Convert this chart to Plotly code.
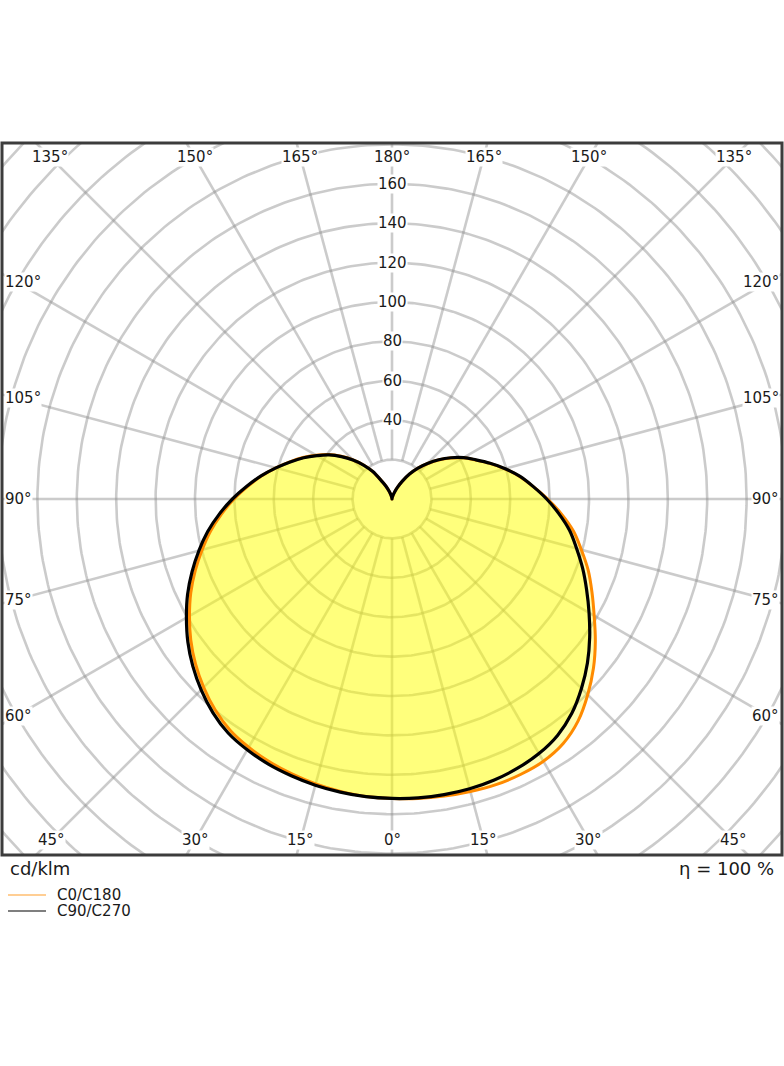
import numpy as np
import plotly.graph_objects as go

# ---------------- data (cd/klm) ----------------
gamma = [0, 5, 10, 15, 20, 25, 30, 35, 40, 45, 50, 55, 60, 65, 70, 75, 80, 85, 90,
         95, 100, 105, 110, 115, 120, 125, 130, 135, 140, 145, 150, 155, 160, 165, 170, 175, 180]

c0 = [152, 152.6, 153.1, 153.7, 154.3, 154.3, 153.7, 151.5, 147, 140.5, 133.5, 126, 118.5, 112, 106, 99.5, 93.5, 86.3, 79,
      72, 65.8, 59.3, 52.8, 46.8, 41.8, 36.3, 30.8, 25.3, 20.3, 15.3, 10.3, 6.4, 3.6, 1.8, 0.8, 0.2, 0]
c180 = [152, 151.6, 150.7, 149.7, 148.5, 147.2, 145.5, 143.3, 139.7, 135.2, 130.2, 124.7, 118.7, 112.7, 106.3, 99.8, 93.5, 86.8, 80.2,
        73.5, 67.3, 61, 55.2, 49.9, 44.5, 39.4, 33.7, 28, 22.5, 17, 10.5, 6.8, 3.9, 2, 0.8, 0.2, 0]
c90 = [152, 152.3, 152.4, 152.3, 151.8, 150.8, 149.2, 146.5, 142, 136, 129.5, 122.5, 115.5, 109, 103, 97, 91.5, 85, 78.5,
       72, 66, 59.5, 53, 47, 42, 36.5, 31, 25.5, 20.5, 15.5, 10.5, 6.5, 3.7, 1.9, 0.8, 0.2, 0]
c270 = [152, 151.7, 151.1, 150.4, 149.5, 148.5, 147, 145, 141.5, 137, 132, 126.5, 120.5, 114.5, 108, 101.5, 95, 88, 81,
        74, 67.5, 61, 55, 49.5, 44, 39, 33.5, 28, 22.5, 17, 10.5, 7, 4, 2, 0.8, 0.2, 0]

grid_radii = [20, 40, 60, 80, 100, 120, 140, 160, 180, 200, 220, 240, 260, 280]
radial_labels = [40, 60, 80, 100, 120, 140, 160]
spoke_angles = list(range(0, 360, 15))

# ---------------- geometry ----------------
W, H = 784, 1066
FL, FR, FT, FB = 2, 782, 143, 855
CX, CY = 392, 499
S = 1.97  # px per cd/klm
x0r, x1r = -(CX - FL) / S, (FR - CX) / S
y0r, y1r = -(FB - CY) / S, (CY - FT) / S


def outline(right, left):
    g = np.radians(gamma)
    r = np.array(right, float)
    l = np.array(left, float)
    xr, yr = r * np.sin(g), -r * np.cos(g)
    xl, yl = -(l * np.sin(g))[::-1], -(l * np.cos(g))[::-1]
    return np.concatenate([xr, xl[1:]]), np.concatenate([yr, yl[1:]])


fig = go.Figure()

GRID = dict(color="rgba(140,140,140,0.45)", width=2.6)
# grid circles
t = np.linspace(0, 2 * np.pi, 361)
gx, gy = [], []
for rr in grid_radii:
    gx += list(rr * np.cos(t)) + [None]
    gy += list(rr * np.sin(t)) + [None]
fig.add_trace(go.Scatter(x=gx, y=gy, mode="lines", hoverinfo="skip", line=GRID, showlegend=False))
# spokes
sx, sy = [], []
for a in spoke_angles:
    ar = np.radians(a)
    sx += [20 * np.sin(ar), 300 * np.sin(ar), None]
    sy += [-20 * np.cos(ar), -300 * np.cos(ar), None]
fig.add_trace(go.Scatter(x=sx, y=sy, mode="lines", hoverinfo="skip", line=GRID, showlegend=False))

ox, oy = outline(c0, c180)
bx, by = outline(c90, c270)
for xx, yy in [(ox, oy), (bx, by)]:
    fig.add_trace(go.Scatter(x=xx, y=yy, mode="lines", fill="toself",
                             fillcolor="rgba(255,255,0,0.30)",
                             line=dict(width=0, shape="spline", smoothing=1.0, color="rgba(0,0,0,0)"),
                             hoverinfo="skip", showlegend=False))
fig.add_trace(go.Scatter(x=ox, y=oy, mode="lines", name="C0/C180",
                         line=dict(color="#ff8a00", width=3, shape="spline", smoothing=1.0), showlegend=False))
fig.add_trace(go.Scatter(x=bx, y=by, mode="lines", name="C90/C270",
                         line=dict(color="#000000", width=3.2, shape="spline", smoothing=1.0), showlegend=False))

ann = []
FONT = dict(family="DejaVu Sans", size=15, color="#1a1a1a")

# radial labels
for rv in radial_labels:
    ann.append(dict(x=0, y=rv, xref="x", yref="y", text=str(rv), showarrow=False,
                    font=FONT, bgcolor="white", borderpad=0, xanchor="center", yanchor="middle"))

# angle labels
ytop = (CY - 157) / S
ybot = (840 - CY) / S
for g in [135, 150, 165, 180]:
    dx = ytop * np.tan(np.radians(180 - g))
    for sgn in ([-1, 1] if g != 180 else [1]):
        ann.append(dict(x=sgn * dx, y=ytop, text=f"{g}°", showarrow=False, font=FONT,
                        bgcolor="white", borderpad=0, xanchor="center", yanchor="middle"))
for g in [0, 15, 30, 45]:
    dx = ybot * np.tan(np.radians(g))
    for sgn in ([-1, 1] if g != 0 else [1]):
        ann.append(dict(x=sgn * dx, y=-ybot, text=f"{g}°", showarrow=False, font=FONT,
                        bgcolor="white", borderpad=0, xanchor="center", yanchor="middle"))
# side labels, kept just inside the frame
xin_l = -(CX - 4) / S
xin_r = (780 - CX) / S
xside = 376 / S
for g in [60, 75, 90, 105, 120]:
    yy = -xside / np.tan(np.radians(g)) if g != 90 else 0.0
    ann.append(dict(x=xin_l, y=yy, text=f"{g}°", showarrow=False, font=FONT,
                    bgcolor="white", borderpad=0, xanchor="left", yanchor="middle"))
    ann.append(dict(x=xin_r, y=yy, text=f"{g}°", showarrow=False, font=FONT,
                    bgcolor="white", borderpad=0, xanchor="right", yanchor="middle"))


def px(xp):
    return (xp - FL) / (FR - FL)


def py(yp):
    return (FB - yp) / (FB - FT)


BIG = dict(family="DejaVu Sans", size=18, color="#1a1a1a")
ann.append(dict(x=px(8), y=py(868), xref="paper", yref="paper", text="cd/klm", showarrow=False,
                font=BIG, xanchor="left", yanchor="middle"))
ann.append(dict(x=px(776), y=py(868), xref="paper", yref="paper", text="η = 100 %", showarrow=False,
                font=BIG, xanchor="right", yanchor="middle"))
ann.append(dict(x=px(55), y=py(895), xref="paper", yref="paper", text="C0/C180", showarrow=False,
                font=FONT, xanchor="left", yanchor="middle"))
ann.append(dict(x=px(55), y=py(911), xref="paper", yref="paper", text="C90/C270", showarrow=False,
                font=FONT, xanchor="left", yanchor="middle"))

shapes = [
    dict(type="rect", xref="paper", yref="paper", x0=0, x1=1, y0=0, y1=1,
         line=dict(color="#3c3c3c", width=3), fillcolor="rgba(0,0,0,0)", layer="above"),
    dict(type="line", xref="paper", yref="paper", x0=px(8), x1=px(46), y0=py(895), y1=py(895),
         line=dict(color="#ffbe70", width=1.5)),
    dict(type="line", xref="paper", yref="paper", x0=px(8), x1=px(46), y0=py(911), y1=py(911),
         line=dict(color="#555555", width=1.5)),
]

fig.update_layout(
    width=W, height=H, autosize=False,
    margin=dict(l=FL, r=W - FR, t=FT, b=H - FB, pad=0),
    paper_bgcolor="white", plot_bgcolor="white",
    xaxis=dict(range=[x0r, x1r], visible=False, fixedrange=True),
    yaxis=dict(range=[y0r, y1r], visible=False, fixedrange=True),
    annotations=ann, shapes=shapes, showlegend=False,
)

fig.write_html("out.html")
